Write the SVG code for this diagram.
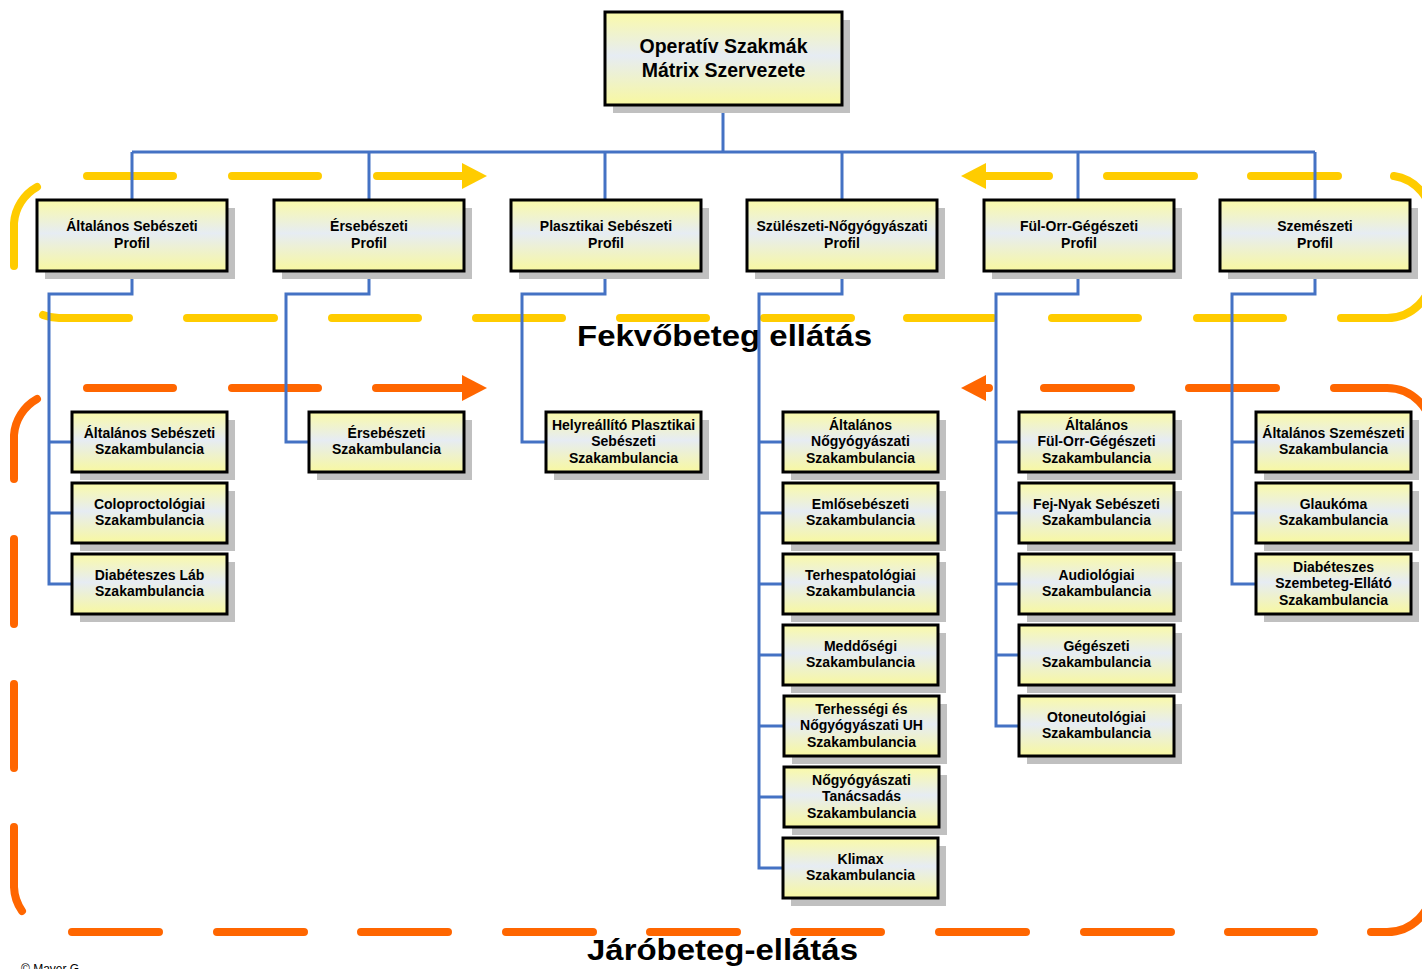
<svg xmlns="http://www.w3.org/2000/svg" width="1422" height="969" viewBox="0 0 1422 969">
<defs>
<linearGradient id="gf" x1="0" y1="0" x2="0" y2="1">
<stop offset="0" stop-color="#fafaa8"/>
<stop offset="0.47" stop-color="#e6ecf3"/>
<stop offset="1" stop-color="#f8f8a0"/>
</linearGradient>
<style>
.sh{fill:#c0c0c0}
.bx{fill:url(#gf);stroke:#000;stroke-width:3}
.t{font-family:"Liberation Sans",Arial,sans-serif;font-weight:bold;font-size:14px;text-anchor:middle;fill:#000}
.tt{font-family:"Liberation Sans",Arial,sans-serif;font-weight:bold;font-size:19.5px;text-anchor:middle;fill:#000}
.big{font-family:"Liberation Sans",Arial,sans-serif;font-weight:bold;font-size:30px;fill:#000}
.cp{font-family:"Liberation Sans",Arial,sans-serif;font-size:12px;fill:#000}
.conn{stroke:#4472c4;stroke-width:3;fill:none}
.yd{stroke:#ffcc00;stroke-width:8;stroke-linecap:round;fill:none}
.ya{fill:#ffcc00}
.od{stroke:#ff6600;stroke-width:8;stroke-linecap:round;fill:none}
.oa{fill:#ff6600}
</style>
</defs>
<rect width="1422" height="969" fill="#fff"/>

<g id="inpatient-loop">
<path class="yd" d="M87,176 H173 M232,176 H318 M377,176 H465 M983,176 H1049 M1107,176 H1194 M1251,176 H1338 M1394,176 A45,45 0 0 1 1432,221"/>
<path class="yd" d="M37,187 A45,45 0 0 0 14,223 V266 M43,315 A45,45 0 0 0 59,318 H129 M187,318 H274 M332,318 H418 M476,318 H562 M620,318 H706 M764,318 H851 M907,318 H993 M1052,318 H1138 M1197,318 H1283 M1341,318 H1387 A45,45 0 0 0 1432,273"/>
<polygon class="ya" points="462,163 487,176 462,189"/>
<polygon class="ya" points="986,163 961,176 986,189"/>
</g>

<g id="outpatient-loop">
<path class="od" d="M87,388 H173 M232,388 H318 M376,388 H465 M983,388 H989 M1044,388 H1131 M1189,388 H1276 M1334,388 H1387 A45,45 0 0 1 1432,433"/>
<path class="od" d="M37,399 A45,45 0 0 0 14,435 V479 M14,539 V624 M14,684 V768 M14,827 V887 A45,45 0 0 0 22,911 M72,932 H159 M217,932 H304 M361,932 H448 M506,932 H593 M650,932 H737 M794,932 H881 M939,932 H1026 M1084,932 H1171 M1228,932 H1314 M1371,932 H1387 A45,45 0 0 0 1432,887"/>
<polygon class="oa" points="462,375 487,388 462,401"/>
<polygon class="oa" points="986,375 961,388 986,401"/>
</g>

<text class="big" x="577" y="346" textLength="295" lengthAdjust="spacingAndGlyphs">Fekvőbeteg ellátás</text>
<text class="big" x="587" y="960" textLength="271" lengthAdjust="spacingAndGlyphs">Járóbeteg-ellátás</text>
<text class="cp" x="21" y="973">© Mayer G.</text>

<g id="connectors">
<path class="conn" d="M723,105 V152 M132,152 H1315 M132,152 V200 M369,152 V200 M605,152 V200 M842,152 V200 M1078,152 V200 M1315,152 V200"/>
<path class="conn" d="M132,271 V294 H49 V584 H72 M49,442 H72 M49,513 H72"/>
<path class="conn" d="M369,271 V294 H286 V442 H309"/>
<path class="conn" d="M605,271 V294 H522 V442 H546"/>
<path class="conn" d="M842,271 V294 H759 V868 H783 M759,442 H783 M759,513 H783 M759,584 H783 M759,655 H783 M759,726 H784 M759,797 H784"/>
<path class="conn" d="M1078,271 V294 H996 V726 H1019 M996,442 H1019 M996,513 H1019 M996,584 H1019 M996,655 H1019"/>
<path class="conn" d="M1315,271 V294 H1232 V584 H1256 M1232,442 H1256 M1232,513 H1256"/>
</g>

<g id="root">
<rect class="sh" x="613" y="20" width="237" height="93"/>
<rect class="bx" x="605" y="12" width="237" height="93"/>
<text class="tt"><tspan x="723.5" y="53">Operatív Szakmák</tspan><tspan x="723.5" y="77">Mátrix Szervezete</tspan></text>
</g>

<g id="p1">
<rect class="sh" x="45" y="208" width="190" height="71"/>
<rect class="bx" x="37" y="200" width="190" height="71"/>
<text class="t"><tspan x="132" y="231">Általános Sebészeti</tspan><tspan x="132" y="248">Profil</tspan></text>
</g>
<g id="p2">
<rect class="sh" x="282" y="208" width="190" height="71"/>
<rect class="bx" x="274" y="200" width="190" height="71"/>
<text class="t"><tspan x="369" y="231">Érsebészeti</tspan><tspan x="369" y="248">Profil</tspan></text>
</g>
<g id="p3">
<rect class="sh" x="519" y="208" width="190" height="71"/>
<rect class="bx" x="511" y="200" width="190" height="71"/>
<text class="t"><tspan x="606" y="231">Plasztikai Sebészeti</tspan><tspan x="606" y="248">Profil</tspan></text>
</g>
<g id="p4">
<rect class="sh" x="755" y="208" width="190" height="71"/>
<rect class="bx" x="747" y="200" width="190" height="71"/>
<text class="t"><tspan x="842" y="231">Szülészeti-Nőgyógyászati</tspan><tspan x="842" y="248">Profil</tspan></text>
</g>
<g id="p5">
<rect class="sh" x="992" y="208" width="190" height="71"/>
<rect class="bx" x="984" y="200" width="190" height="71"/>
<text class="t"><tspan x="1079" y="231">Fül-Orr-Gégészeti</tspan><tspan x="1079" y="248">Profil</tspan></text>
</g>
<g id="p6">
<rect class="sh" x="1228" y="208" width="190" height="71"/>
<rect class="bx" x="1220" y="200" width="190" height="71"/>
<text class="t"><tspan x="1315" y="231">Szemészeti</tspan><tspan x="1315" y="248">Profil</tspan></text>
</g>

<g id="c1a">
<rect class="sh" x="80" y="420" width="155" height="60"/>
<rect class="bx" x="72" y="412" width="155" height="60"/>
<text class="t"><tspan x="149.5" y="438">Általános Sebészeti</tspan><tspan x="149.5" y="454">Szakambulancia</tspan></text>
</g>
<g id="c1b">
<rect class="sh" x="80" y="491" width="155" height="60"/>
<rect class="bx" x="72" y="483" width="155" height="60"/>
<text class="t"><tspan x="149.5" y="509">Coloproctológiai</tspan><tspan x="149.5" y="525">Szakambulancia</tspan></text>
</g>
<g id="c1c">
<rect class="sh" x="80" y="562" width="155" height="60"/>
<rect class="bx" x="72" y="554" width="155" height="60"/>
<text class="t"><tspan x="149.5" y="580">Diabéteszes Láb</tspan><tspan x="149.5" y="596">Szakambulancia</tspan></text>
</g>

<g id="c2a">
<rect class="sh" x="317" y="420" width="155" height="60"/>
<rect class="bx" x="309" y="412" width="155" height="60"/>
<text class="t"><tspan x="386.5" y="438">Érsebészeti</tspan><tspan x="386.5" y="454">Szakambulancia</tspan></text>
</g>

<g id="c3a">
<rect class="sh" x="554" y="420" width="155" height="60"/>
<rect class="bx" x="546" y="412" width="155" height="60"/>
<text class="t"><tspan x="623.5" y="429.5">Helyreállító Plasztikai</tspan><tspan x="623.5" y="446">Sebészeti</tspan><tspan x="623.5" y="462.5">Szakambulancia</tspan></text>
</g>

<g id="c4a">
<rect class="sh" x="791" y="420" width="155" height="60"/>
<rect class="bx" x="783" y="412" width="155" height="60"/>
<text class="t"><tspan x="860.5" y="429.5">Általános</tspan><tspan x="860.5" y="446">Nőgyógyászati</tspan><tspan x="860.5" y="462.5">Szakambulancia</tspan></text>
</g>
<g id="c4b">
<rect class="sh" x="791" y="491" width="155" height="60"/>
<rect class="bx" x="783" y="483" width="155" height="60"/>
<text class="t"><tspan x="860.5" y="509">Emlősebészeti</tspan><tspan x="860.5" y="525">Szakambulancia</tspan></text>
</g>
<g id="c4c">
<rect class="sh" x="791" y="562" width="155" height="60"/>
<rect class="bx" x="783" y="554" width="155" height="60"/>
<text class="t"><tspan x="860.5" y="580">Terhespatológiai</tspan><tspan x="860.5" y="596">Szakambulancia</tspan></text>
</g>
<g id="c4d">
<rect class="sh" x="791" y="633" width="155" height="60"/>
<rect class="bx" x="783" y="625" width="155" height="60"/>
<text class="t"><tspan x="860.5" y="651">Meddőségi</tspan><tspan x="860.5" y="667">Szakambulancia</tspan></text>
</g>
<g id="c4e">
<rect class="sh" x="792" y="704" width="155" height="60"/>
<rect class="bx" x="784" y="696" width="155" height="60"/>
<text class="t"><tspan x="861.5" y="713.5">Terhességi és</tspan><tspan x="861.5" y="730">Nőgyógyászati UH</tspan><tspan x="861.5" y="746.5">Szakambulancia</tspan></text>
</g>
<g id="c4f">
<rect class="sh" x="792" y="775" width="155" height="60"/>
<rect class="bx" x="784" y="767" width="155" height="60"/>
<text class="t"><tspan x="861.5" y="784.5">Nőgyógyászati</tspan><tspan x="861.5" y="801">Tanácsadás</tspan><tspan x="861.5" y="817.5">Szakambulancia</tspan></text>
</g>
<g id="c4g">
<rect class="sh" x="791" y="846" width="155" height="60"/>
<rect class="bx" x="783" y="838" width="155" height="60"/>
<text class="t"><tspan x="860.5" y="864">Klimax</tspan><tspan x="860.5" y="880">Szakambulancia</tspan></text>
</g>

<g id="c5a">
<rect class="sh" x="1027" y="420" width="155" height="60"/>
<rect class="bx" x="1019" y="412" width="155" height="60"/>
<text class="t"><tspan x="1096.5" y="429.5">Általános</tspan><tspan x="1096.5" y="446">Fül-Orr-Gégészeti</tspan><tspan x="1096.5" y="462.5">Szakambulancia</tspan></text>
</g>
<g id="c5b">
<rect class="sh" x="1027" y="491" width="155" height="60"/>
<rect class="bx" x="1019" y="483" width="155" height="60"/>
<text class="t"><tspan x="1096.5" y="509">Fej-Nyak Sebészeti</tspan><tspan x="1096.5" y="525">Szakambulancia</tspan></text>
</g>
<g id="c5c">
<rect class="sh" x="1027" y="562" width="155" height="60"/>
<rect class="bx" x="1019" y="554" width="155" height="60"/>
<text class="t"><tspan x="1096.5" y="580">Audiológiai</tspan><tspan x="1096.5" y="596">Szakambulancia</tspan></text>
</g>
<g id="c5d">
<rect class="sh" x="1027" y="633" width="155" height="60"/>
<rect class="bx" x="1019" y="625" width="155" height="60"/>
<text class="t"><tspan x="1096.5" y="651">Gégészeti</tspan><tspan x="1096.5" y="667">Szakambulancia</tspan></text>
</g>
<g id="c5e">
<rect class="sh" x="1027" y="704" width="155" height="60"/>
<rect class="bx" x="1019" y="696" width="155" height="60"/>
<text class="t"><tspan x="1096.5" y="722">Otoneutológiai</tspan><tspan x="1096.5" y="738">Szakambulancia</tspan></text>
</g>

<g id="c6a">
<rect class="sh" x="1264" y="420" width="155" height="60"/>
<rect class="bx" x="1256" y="412" width="155" height="60"/>
<text class="t"><tspan x="1333.5" y="438">Általános Szemészeti</tspan><tspan x="1333.5" y="454">Szakambulancia</tspan></text>
</g>
<g id="c6b">
<rect class="sh" x="1264" y="491" width="155" height="60"/>
<rect class="bx" x="1256" y="483" width="155" height="60"/>
<text class="t"><tspan x="1333.5" y="509">Glaukóma</tspan><tspan x="1333.5" y="525">Szakambulancia</tspan></text>
</g>
<g id="c6c">
<rect class="sh" x="1264" y="562" width="155" height="60"/>
<rect class="bx" x="1256" y="554" width="155" height="60"/>
<text class="t"><tspan x="1333.5" y="571.5">Diabéteszes</tspan><tspan x="1333.5" y="588">Szembeteg-Ellátó</tspan><tspan x="1333.5" y="604.5">Szakambulancia</tspan></text>
</g>
</svg>
